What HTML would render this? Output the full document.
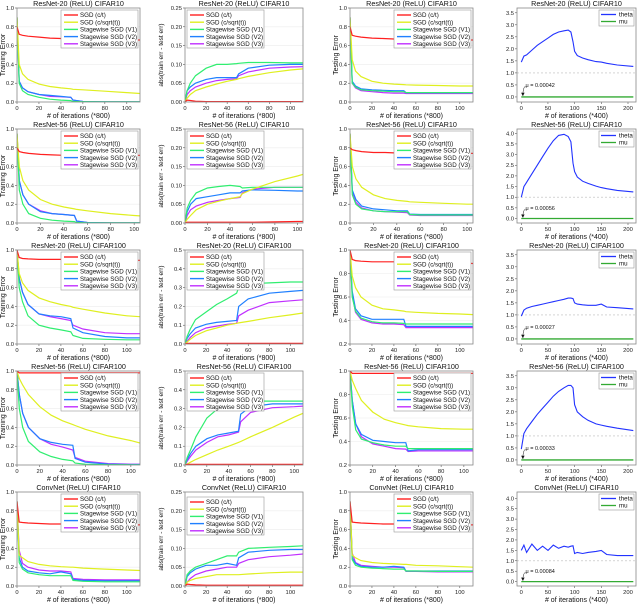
<!DOCTYPE html>
<html><head><meta charset="utf-8"><style>
body{margin:0;background:#fff;}
svg{display:block;font-family:"Liberation Sans",sans-serif;}
</style></head><body>
<svg id="fig" width="640" height="606" viewBox="0 0 640 606"></svg>
<script>
const X = [0,2,5,10,20,30,40,49,51,60,80,100,112];
const X4 = [0,5,10,20,30,40,50,60,70,80,88,93,97,100,105,115,125,140,150,160,180,210];
const titles = ["ResNet-20 (ReLU) CIFAR10","ResNet-56 (ReLU) CIFAR10","ResNet-20 (ReLU) CIFAR100","ResNet-56 (ReLU) CIFAR100","ConvNet (ReLU) CIFAR10"];
const seriesNames = ["SGD (c/t)","SGD (c/sqrt(t))","Stagewise SGD (V1)","Stagewise SGD (V2)","Stagewise SGD (V3)"];
const muLabels = ["0.00042","0.00056","0.00027","0.00033","0.00084"];
const xMaxByRow = [112,105,112,108,112];
const col2YMax = [0.25,0.25,0.5,0.5,0.25];
const col2YStep = [0.05,0.05,0.1,0.1,0.05];
const col3YMin = [0,0,0.2,0.2,0];
const col4YMax = [3.7,4.2,3.7,3.7,4.3];
const col4TickMax = [3.5,4.0,3.5,3.5,4.0];

const r1c1red=[0.8,0.72,0.71,0.70,0.69,0.68,0.675,0.67,0.67,0.67,0.665,0.66,0.66];
const r1c1yel=[0.9,0.4,0.3,0.24,0.19,0.165,0.15,0.14,0.135,0.13,0.115,0.1,0.09];
const r1c1grn=[0.9,0.2,0.12,0.08,0.05,0.03,0.02,0.015,0.005,0.003,0.002,0.001,0.001];
const r1c1blu=[0.9,0.22,0.15,0.11,0.08,0.07,0.06,0.05,0.02,0.005,0.002,0.001,0.001];
const r1c1pur=[0.9,0.22,0.15,0.11,0.08,0.06,0.055,0.05,0.02,0.005,0.002,0.001,0.001];
const r1c2red=[0,0.005,0.004,0.002,0.001,0.001,0.001,0.001,0.001,0.001,0.001,0.001,0.001];
const r1c2yel=[0,0.01,0.02,0.03,0.04,0.048,0.055,0.06,0.062,0.068,0.078,0.085,0.088];
const r1c2grn=[0,0.03,0.05,0.07,0.09,0.1,0.1,0.102,0.103,0.105,0.105,0.104,0.104];
const r1c2blu=[0,0.03,0.04,0.05,0.06,0.065,0.065,0.065,0.075,0.09,0.098,0.1,0.1];
const r1c2pur=[0,0.02,0.03,0.04,0.05,0.057,0.06,0.062,0.07,0.08,0.09,0.093,0.094];
const r1c3red=[0.8,0.71,0.70,0.69,0.68,0.675,0.67,0.67,0.668,0.665,0.662,0.66,0.66];
const r1c3yel=[0.9,0.45,0.33,0.27,0.22,0.2,0.19,0.185,0.183,0.18,0.175,0.17,0.17];
const r1c3grn=[0.9,0.2,0.16,0.13,0.12,0.115,0.11,0.11,0.1,0.1,0.1,0.1,0.1];
const r1c3blu=[0.9,0.22,0.17,0.14,0.13,0.125,0.12,0.12,0.1,0.1,0.1,0.1,0.1];
const r1c3pur=[0.9,0.2,0.15,0.12,0.11,0.1,0.095,0.095,0.09,0.09,0.09,0.09,0.09];
const r1theta=[1.45,1.7,1.75,1.95,2.15,2.3,2.45,2.6,2.7,2.75,2.78,2.7,2.3,1.9,1.72,1.62,1.55,1.47,1.45,1.4,1.33,1.27];

const r2c1red=[0.8,0.76,0.75,0.74,0.73,0.725,0.72,0.72,0.72,0.72,0.72,0.72,0.72];
const r2c1yel=[0.95,0.6,0.45,0.35,0.25,0.2,0.17,0.15,0.145,0.13,0.1,0.08,0.07];
const r2c1grn=[0.95,0.35,0.2,0.1,0.05,0.03,0.02,0.015,0.005,0.002,0.001,0.001,0.001];
const r2c1blu=[0.95,0.45,0.3,0.2,0.12,0.1,0.09,0.08,0.02,0.005,0.002,0.001,0.001];
const r2c1pur=[0.95,0.45,0.3,0.2,0.13,0.1,0.09,0.08,0.02,0.005,0.002,0.001,0.001];
const r2c2red=[0,0.002,0.002,0.002,0.002,0.002,0.002,0.002,0.002,0.002,0.003,0.004,0.004];
const r2c2yel=[0,0.01,0.02,0.035,0.05,0.058,0.065,0.07,0.078,0.09,0.11,0.125,0.135];
const r2c2grn=[0,0.04,0.06,0.08,0.093,0.097,0.1,0.097,0.093,0.095,0.095,0.095,0.095];
const r2c2blu=[0,0.03,0.05,0.065,0.07,0.075,0.08,0.08,0.085,0.088,0.087,0.085,0.085];
const r2c2pur=[0,0.02,0.035,0.045,0.055,0.06,0.065,0.068,0.08,0.09,0.095,0.095,0.095];
const r2c3red=[0.8,0.78,0.77,0.76,0.75,0.75,0.745,0.745,0.74,0.74,0.74,0.74,0.74];
const r2c3yel=[0.95,0.6,0.47,0.38,0.3,0.26,0.24,0.23,0.225,0.22,0.21,0.2,0.2];
const r2c3grn=[0.95,0.3,0.2,0.15,0.13,0.12,0.12,0.12,0.09,0.085,0.085,0.085,0.085];
const r2c3blu=[0.95,0.35,0.25,0.18,0.15,0.14,0.13,0.13,0.095,0.09,0.09,0.09,0.09];
const r2c3pur=[0.95,0.33,0.22,0.16,0.13,0.12,0.115,0.11,0.085,0.08,0.08,0.08,0.08];
const r2theta=[1.0,1.5,1.7,2.1,2.5,2.9,3.3,3.65,3.9,3.95,3.85,3.6,2.6,2.2,1.95,1.75,1.65,1.52,1.45,1.4,1.32,1.25];

const r3c1red=[1.0,0.92,0.91,0.905,0.9,0.9,0.9,0.9,0.9,0.895,0.89,0.89,0.89];
const r3c1yel=[1.0,0.75,0.65,0.57,0.49,0.45,0.42,0.4,0.39,0.37,0.33,0.3,0.29];
const r3c1grn=[1.0,0.6,0.45,0.3,0.2,0.17,0.15,0.13,0.09,0.06,0.05,0.045,0.045];
const r3c1blu=[1.0,0.7,0.55,0.42,0.32,0.3,0.29,0.27,0.17,0.12,0.08,0.065,0.065];
const r3c1pur=[1.0,0.7,0.55,0.42,0.32,0.29,0.27,0.25,0.2,0.16,0.12,0.11,0.11];
const r3c2red=[0,0.003,0.003,0.003,0.003,0.003,0.003,0.003,0.003,0.003,0.003,0.003,0.003];
const r3c2yel=[0,0.01,0.025,0.045,0.07,0.085,0.1,0.11,0.112,0.12,0.14,0.155,0.165];
const r3c2grn=[0,0.04,0.08,0.13,0.17,0.21,0.24,0.27,0.3,0.32,0.325,0.33,0.33];
const r3c2blu=[0,0.03,0.055,0.085,0.105,0.115,0.12,0.125,0.2,0.24,0.27,0.28,0.285];
const r3c2pur=[0,0.015,0.035,0.06,0.085,0.095,0.105,0.11,0.15,0.18,0.22,0.23,0.235];
const r3c3red=[1.0,0.92,0.91,0.905,0.9,0.9,0.9,0.895,0.895,0.895,0.89,0.89,0.885];
const r3c3yel=[1.0,0.78,0.68,0.6,0.53,0.5,0.49,0.48,0.475,0.47,0.46,0.455,0.45];
const r3c3grn=[1.0,0.6,0.48,0.42,0.39,0.38,0.38,0.375,0.37,0.37,0.37,0.37,0.37];
const r3c3blu=[1.0,0.65,0.5,0.44,0.41,0.41,0.41,0.41,0.35,0.35,0.35,0.35,0.35];
const r3c3pur=[1.0,0.62,0.47,0.41,0.38,0.37,0.37,0.365,0.34,0.34,0.34,0.34,0.34];
const r3theta=[0.95,1.2,1.28,1.35,1.4,1.45,1.5,1.55,1.6,1.65,1.7,1.7,1.68,1.5,1.45,1.42,1.4,1.4,1.45,1.33,1.3,1.25];

const r4c1red=[1.0,0.98,0.98,0.98,0.98,0.98,0.98,0.98,0.98,0.98,0.98,0.98,0.98];
const r4c1yel=[1.0,0.92,0.85,0.75,0.62,0.53,0.47,0.43,0.42,0.38,0.31,0.26,0.22];
const r4c1grn=[1.0,0.6,0.4,0.25,0.14,0.09,0.06,0.045,0.02,0.008,0.003,0.002,0.002];
const r4c1blu=[1.0,0.75,0.55,0.4,0.28,0.24,0.22,0.21,0.07,0.03,0.01,0.005,0.005];
const r4c1pur=[1.0,0.75,0.55,0.4,0.28,0.22,0.19,0.16,0.08,0.04,0.015,0.008,0.008];
const r4c2red=[0,0.003,0.003,0.003,0.003,0.003,0.003,0.003,0.003,0.003,0.003,0.003,0.003];
const r4c2yel=[0,0.005,0.015,0.03,0.055,0.08,0.1,0.12,0.125,0.15,0.2,0.255,0.285];
const r4c2grn=[0,0.04,0.08,0.15,0.25,0.3,0.32,0.33,0.335,0.34,0.34,0.34,0.34];
const r4c2blu=[0,0.03,0.06,0.1,0.14,0.16,0.17,0.18,0.27,0.31,0.325,0.325,0.325];
const r4c2pur=[0,0.02,0.045,0.08,0.12,0.15,0.16,0.175,0.23,0.28,0.305,0.31,0.315];
const r4c3red=[1.0,0.98,0.98,0.98,0.98,0.98,0.98,0.98,0.98,0.98,0.98,0.98,0.98];
const r4c3yel=[1.0,0.92,0.85,0.75,0.65,0.59,0.56,0.54,0.535,0.525,0.51,0.505,0.505];
const r4c3grn=[1.0,0.7,0.5,0.42,0.39,0.37,0.36,0.36,0.34,0.34,0.34,0.34,0.34];
const r4c3blu=[1.0,0.75,0.55,0.46,0.41,0.4,0.39,0.39,0.32,0.33,0.33,0.33,0.33];
const r4c3pur=[1.0,0.75,0.55,0.44,0.38,0.36,0.34,0.335,0.315,0.32,0.32,0.32,0.32];
const r4theta=[0.45,1.1,1.3,1.6,1.9,2.15,2.4,2.65,2.85,3.0,3.1,3.1,3.0,2.3,2.0,1.8,1.65,1.5,1.45,1.4,1.32,1.22];

const r5c1red=[0.9,0.68,0.675,0.67,0.665,0.66,0.66,0.655,0.655,0.655,0.65,0.65,0.65];
const r5c1yel=[0.9,0.33,0.3,0.26,0.23,0.215,0.205,0.2,0.2,0.19,0.18,0.17,0.165];
const r5c1grn=[0.9,0.25,0.18,0.14,0.12,0.11,0.11,0.11,0.06,0.05,0.045,0.045,0.045];
const r5c1blu=[0.9,0.3,0.2,0.16,0.14,0.13,0.15,0.13,0.07,0.06,0.055,0.055,0.055];
const r5c1pur=[0.9,0.38,0.24,0.2,0.17,0.16,0.16,0.15,0.08,0.07,0.065,0.065,0.065];
const r5c2red=[0,0.005,0.004,0.003,0.002,0.002,0.002,0.002,0.002,0.002,0.002,0.002,0.002];
const r5c2yel=[0,0.01,0.015,0.02,0.025,0.03,0.03,0.03,0.03,0.032,0.035,0.037,0.037];
const r5c2grn=[0,0.03,0.04,0.05,0.06,0.07,0.08,0.08,0.09,0.1,0.103,0.105,0.107];
const r5c2blu=[0,0.025,0.035,0.045,0.055,0.055,0.06,0.055,0.075,0.09,0.095,0.097,0.097];
const r5c2pur=[0,0.01,0.02,0.03,0.04,0.045,0.05,0.05,0.06,0.07,0.078,0.082,0.085];
const r5c3red=[0.9,0.68,0.675,0.67,0.665,0.66,0.66,0.655,0.655,0.65,0.65,0.65,0.65];
const r5c3yel=[0.9,0.33,0.3,0.27,0.25,0.24,0.235,0.23,0.23,0.22,0.215,0.205,0.2];
const r5c3grn=[0.9,0.28,0.22,0.2,0.19,0.185,0.18,0.18,0.16,0.16,0.155,0.155,0.155];
const r5c3blu=[0.9,0.3,0.24,0.21,0.2,0.2,0.21,0.2,0.16,0.16,0.16,0.16,0.16];
const r5c3pur=[0.9,0.35,0.25,0.22,0.21,0.2,0.2,0.195,0.155,0.155,0.15,0.15,0.15];
const r5theta=[1.5,1.75,1.4,1.8,1.5,1.7,1.5,1.75,1.6,1.7,1.65,1.7,1.72,1.35,1.4,1.35,1.4,1.45,1.5,1.3,1.25,1.25];

const panels = [
 [[r1c1red,r1c1yel,r1c1grn,r1c1blu,r1c1pur],[r1c2red,r1c2yel,r1c2grn,r1c2blu,r1c2pur],[r1c3red,r1c3yel,r1c3grn,r1c3blu,r1c3pur],r1theta],
 [[r2c1red,r2c1yel,r2c1grn,r2c1blu,r2c1pur],[r2c2red,r2c2yel,r2c2grn,r2c2blu,r2c2pur],[r2c3red,r2c3yel,r2c3grn,r2c3blu,r2c3pur],r2theta],
 [[r3c1red,r3c1yel,r3c1grn,r3c1blu,r3c1pur],[r3c2red,r3c2yel,r3c2grn,r3c2blu,r3c2pur],[r3c3red,r3c3yel,r3c3grn,r3c3blu,r3c3pur],r3theta],
 [[r4c1red,r4c1yel,r4c1grn,r4c1blu,r4c1pur],[r4c2red,r4c2yel,r4c2grn,r4c2blu,r4c2pur],[r4c3red,r4c3yel,r4c3grn,r4c3blu,r4c3pur],r4theta],
 [[r5c1red,r5c1yel,r5c1grn,r5c1blu,r5c1pur],[r5c2red,r5c2yel,r5c2grn,r5c2blu,r5c2pur],[r5c3red,r5c3yel,r5c3grn,r5c3blu,r5c3pur],r5theta]
];

const COLORS=["#ff2020","#dfef20","#30ee70","#2080ff","#c030ff"];
const NS="http://www.w3.org/2000/svg";
const fig=document.getElementById('fig');
function mk(tag,attrs,parent,text){const e=document.createElementNS(NS,tag);for(const k in attrs)e.setAttribute(k,attrs[k]);if(text!==undefined)e.textContent=text;(parent||fig).appendChild(e);return e;}
const COLL=[17,185,350,517], COLR=[140,303,473,636];
function fmt(v,step){const d=step<0.1?2:1;return v.toFixed(d);}

for(let r=0;r<5;r++){
 const top=8+121*r, bot=102+121*r;
 for(let c=0;c<4;c++){
  const L=COLL[c],R=COLR[c];
  const g=mk('g',{});
  
  
  let xmin,xmax,ymin,ymax,ystep,ytickMax,xticks;
  if(c<3){xmin=0;xmax=xMaxByRow[r];xticks=[0,20,40,60,80,100];}
  else{xmin=-8;xmax=215;xticks=[0,50,100,150,200];}
  if(c===0){ymin=0;ymax=1;ystep=0.2;ytickMax=1;}
  else if(c===1){ymin=0;ymax=col2YMax[r];ystep=col2YStep[r];ytickMax=ymax;}
  else if(c===2){ymin=col3YMin[r];ymax=1;ystep=0.2;ytickMax=1;}
  else{ymin=-0.21;ymax=col4YMax[r];ystep=0.5;ytickMax=col4TickMax[r];}
  const sx=v=>L+(v-xmin)/(xmax-xmin)*(R-L);
  const sy=v=>bot-(v-ymin)/(ymax-ymin)*(bot-top);
  const t=mk('text',{x:(L+R)/2,y:top-1.8,'font-size':'7.2','text-anchor':'middle',fill:'#111'},g,titles[r]);
  
  
  const y0=c===3?0:ymin;
  for(let v=y0;v<=ytickMax+1e-9;v+=ystep){
   const y=sy(v);
   if(c<3 && v>ymin+1e-9 && v<ymax-1e-9) mk('line',{x1:L,x2:R,y1:y,y2:y,stroke:'#ececec','stroke-width':0.6},g);
   mk('line',{x1:L-2,x2:L,y1:y,y2:y,stroke:'#333','stroke-width':0.5},g);
   const lb=mk('text',{x:L-3,y:y+2,'font-size':'5.8','text-anchor':'end',fill:'#222'},g,fmt(v,ystep));
   
   
  }
  for(const v of xticks){
   const x=sx(v);
   mk('line',{x1:x,x2:x,y1:bot,y2:bot+2,stroke:'#333','stroke-width':0.5},g);
   const lb=mk('text',{x:x,y:bot+8,'font-size':'5.8','text-anchor':'middle',fill:'#222'},g,String(v));
   
   
  }
  const xl=mk('text',{x:(L+R)/2,y:bot+16,'font-size':'7','text-anchor':'middle',fill:'#111'},g,c<3?'# of iterations (*800)':'# of iterations (*400)');
  
  
  if(c<3){
   const yt=['Training Error','abs(train err - test err)','Testing Error'][c];
   const yx=L-(c===1?22:12);
   const yl=mk('text',{x:yx,y:(top+bot)/2,'font-size':c===1?'6.5':'7','text-anchor':'middle',fill:'#111',transform:`rotate(-90 ${yx} ${(top+bot)/2})`},g,yt);
   
   
  }
  const clipId='cp'+r+c;
  const cp=mk('clipPath',{id:clipId},g);mk('rect',{x:L,y:top,width:R-L,height:bot-top},cp);
  if(c<3){
   const data=panels[r][c];
   for(let s=4;s>=0;s--){
    const pts=X.map((x,i)=>sx(x).toFixed(1)+','+sy(data[s][i]).toFixed(1)).join(' ');
    const pl=mk('polyline',{points:pts,fill:'none',stroke:COLORS[s],'stroke-width':1.2,'clip-path':`url(#${clipId})`},g);
    
    
   }
   const lw=77,lh=38;
   const lx=c===1?L+2:R-lw-2, ly=(c===1&&r===4)?top+5:top+2;
   const lg=mk('g',{},g);
   
   
   mk('rect',{x:lx,y:ly,width:lw,height:lh,fill:'#fff',stroke:'#999','stroke-width':0.6},lg);
   for(let s=0;s<5;s++){
    const yy=ly+5+s*7.2;
    mk('line',{x1:lx+3,x2:lx+17,y1:yy,y2:yy,stroke:COLORS[s],'stroke-width':1.4},lg);
    const tx=mk('text',{x:lx+19,y:yy+2.2,'font-size':'6.2',fill:'#111'},lg,seriesNames[s]);
    
    
   }
  } else {
   const th=panels[r][3];
   mk('line',{x1:L,x2:R,y1:sy(1),y2:sy(1),stroke:'#bbb','stroke-width':0.6,'stroke-dasharray':'2,2'},g);
   const pl=mk('polyline',{points:X4.map((x,i)=>sx(x).toFixed(1)+','+sy(th[i]).toFixed(1)).join(' '),fill:'none',stroke:'#2233ff','stroke-width':1.1,'clip-path':`url(#${clipId})`},g);
   
   
   const mu=mk('line',{x1:sx(0),x2:sx(210),y1:sy(0),y2:sy(0),stroke:'#33aa33','stroke-width':1.3},g);
   
   
   mk('path',{d:`M${sx(8)},${sy(0.45)} Q${sx(3)},${sy(0.4)} ${sx(3)},${sy(0.05)}`,fill:'none',stroke:'#111','stroke-width':0.5},g);
   mk('path',{d:`M${sx(3)-1.5},${sy(0.05)-3} L${sx(3)},${sy(0.05)} L${sx(3)+1.5},${sy(0.05)-3}`,fill:'#111',stroke:'#111','stroke-width':0.4},g);
   const an=mk('text',{x:sx(8),y:sy(0.45)+1,'font-size':'5.5',fill:'#111'},g,'μ = '+muLabels[r]);
   
   
   const lg=mk('g',{},g);
   
   
   mk('rect',{x:R-37,y:top+2,width:35,height:16,fill:'#fff',stroke:'#999','stroke-width':0.6},lg);
   mk('line',{x1:R-35,x2:R-20,y1:top+6.5,y2:top+6.5,stroke:'#2233ff','stroke-width':1.3},lg);
   mk('line',{x1:R-35,x2:R-20,y1:top+13.5,y2:top+13.5,stroke:'#33aa33','stroke-width':1.3},lg);
   const t1=mk('text',{x:R-17,y:top+8.6,'font-size':'6.2',fill:'#111'},lg,'theta');
   
   
   const t2=mk('text',{x:R-17,y:top+15.6,'font-size':'6.2',fill:'#111'},lg,'mu');
   
   
  }
  mk('rect',{x:L,y:top,width:R-L,height:bot-top,fill:'none',stroke:'#888','stroke-width':0.8},g);
 }
}
</script>
</body></html>
